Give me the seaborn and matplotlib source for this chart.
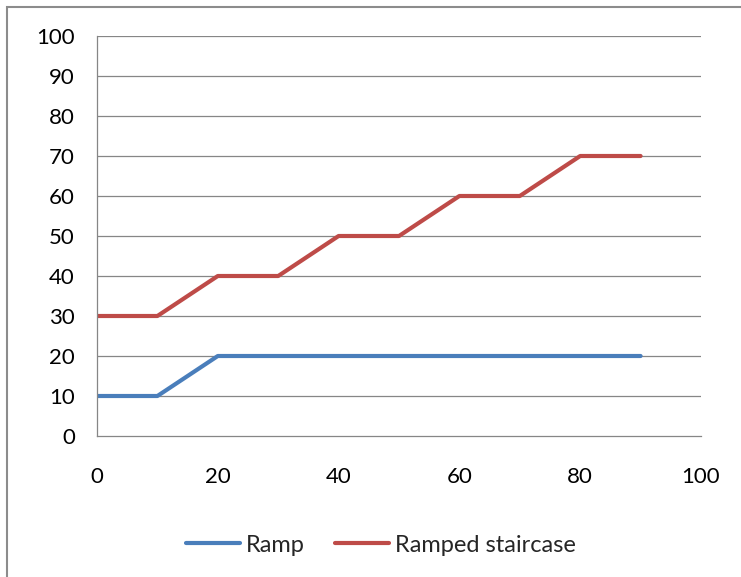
import matplotlib
matplotlib.use("Agg")
import matplotlib.pyplot as plt
import seaborn as sns
import pandas as pd
from matplotlib.patches import Rectangle
from matplotlib.lines import Line2D

# Series data
x_values = [0, 10, 20, 30, 40, 50, 60, 70, 80, 90]
ramp = [10, 10, 20, 20, 20, 20, 20, 20, 20, 20]
ramped_staircase = [30, 30, 40, 40, 50, 50, 60, 60, 70, 70]
series_names = ["Ramp", "Ramped staircase"]
x_ticks = [0, 20, 40, 60, 80, 100]
y_ticks = [0, 10, 20, 30, 40, 50, 60, 70, 80, 90, 100]

df = pd.DataFrame({
    "x": x_values * 2,
    "y": ramp + ramped_staircase,
    "series": [series_names[0]] * len(x_values) + [series_names[1]] * len(x_values),
})

sns.set_style("white")
plt.rcParams["font.family"] = ["Lato", "DejaVu Sans"]

W, H, DPI = 741, 577, 100
fig = plt.figure(figsize=(W / DPI, H / DPI), dpi=DPI)
ax = fig.add_axes([97 / W, 1 - 436 / H, (701 - 97) / W, (436 - 36) / H])

palette = {"Ramp": "#4A7EBB", "Ramped staircase": "#BE4B48"}
sns.lineplot(data=df, x="x", y="y", hue="series", palette=palette,
             linewidth=3.0, ax=ax, legend=False, solid_capstyle="round")

grey = "#868686"
ax.set_xlim(0, 100)
ax.set_ylim(0, 100)
ax.set_xticks(x_ticks)
ax.set_yticks(y_ticks)
ax.set_xlabel("")
ax.set_ylabel("")
for g in y_ticks[1:]:
    ax.axhline(g, color=grey, linewidth=0.9, zorder=0)
for side in ["top", "right"]:
    ax.spines[side].set_visible(False)
for side in ["left", "bottom"]:
    ax.spines[side].set_color(grey)
    ax.spines[side].set_linewidth(0.9)
ax.tick_params(axis="both", which="major", direction="out", length=6,
               width=0.9, color=grey, labelsize=16, labelcolor="#000000")
ax.tick_params(axis="x", pad=16)
ax.tick_params(axis="y", pad=10)

# Legend along the bottom
handles = [Line2D([0], [0], color=palette[n], linewidth=3.0, solid_capstyle="round")
           for n in series_names]
fig.legend(handles, series_names, loc="center", bbox_to_anchor=(381 / W, 1 - 545 / H),
           ncol=2, frameon=False, fontsize=17, handlelength=2.3, handletextpad=0.25,
           columnspacing=1.25)

# Chart border
fig.patches.append(Rectangle((7 / W, -0.05), 1.2, 1 - 7 / H + 0.05,
                             transform=fig.transFigure, fill=False,
                             edgecolor="#8c8c8c", linewidth=1.5, zorder=-1))

fig.savefig("out.png", dpi=DPI)
